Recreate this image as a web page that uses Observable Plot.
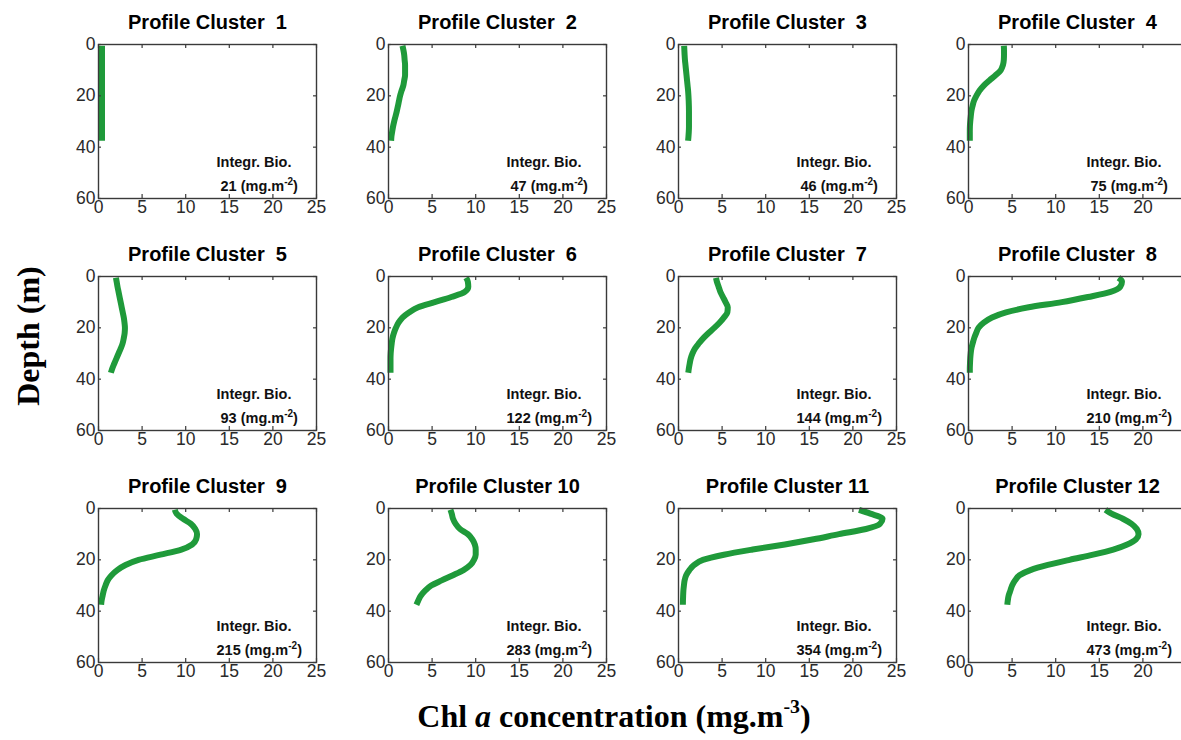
<!DOCTYPE html>
<html>
<head>
<meta charset="utf-8">
<script src="https://cdn.jsdelivr.net/npm/d3@7"></script>
<script src="https://cdn.jsdelivr.net/npm/@observablehq/plot@0.6"></script>
<style>
  html, body { margin: 0; padding: 0; background: #fff; overflow: hidden; }
  #wrap { position: relative; width: 1181px; height: 740px; overflow: hidden; }
  #chart { position: absolute; left: 0; top: 0; width: 1200px; }
  #chart svg { max-width: none !important; }
  .lab { position: absolute; font-family: "Liberation Serif", "Times New Roman", serif; font-weight: bold; font-size: 32px; color: #000; white-space: nowrap; }
  #ylab { left: 28px; top: 336px; transform: translate(-50%, -50%) rotate(-90deg); }
  #xlab { left: 614px; top: 698px; transform: translateX(-50%); }
  #xlab sup { font-size: 0.62em; vertical-align: 0.7em; line-height: 0; }
</style>
</head>
<body>
<div id="wrap">
  <div id="chart"></div>
  <div class="lab" id="ylab">Depth (m)</div>
  <div class="lab" id="xlab">Chl <i>a</i> concentration (mg.m<sup>-3</sup>)</div>
</div>
<script>
// Depth levels (m) at which each mean profile is read
const depth = [0.5, 2, 4, 6, 8, 10, 12, 14, 16, 18, 20, 22, 24, 26, 28, 30, 32, 34, 36, 37.5];

// Chl a concentration (mg.m-3) per profile cluster
const c1  = [0.4, 0.4, 0.4, 0.4, 0.4, 0.4, 0.4, 0.4, 0.4, 0.4, 0.4, 0.4, 0.4, 0.4, 0.4, 0.4, 0.4, 0.4, 0.4, 0.4];
const c2  = [1.6, 1.7, 1.8, 1.85, 1.9, 1.9, 1.9, 1.8, 1.7, 1.5, 1.33, 1.2, 1.08, 0.95, 0.8, 0.65, 0.52, 0.42, 0.33, 0.3];
const c3  = [0.65, 0.67, 0.7, 0.74, 0.8, 0.86, 0.92, 0.98, 1.04, 1.1, 1.14, 1.17, 1.19, 1.2, 1.2, 1.2, 1.2, 1.18, 1.14, 1.1];
const c4  = [4.05, 4.07, 4.07, 4.05, 3.95, 3.7, 3.1, 2.4, 1.75, 1.25, 0.9, 0.62, 0.46, 0.33, 0.26, 0.2, 0.16, 0.15, 0.15, 0.15];
const c5  = [2.0, 2.08, 2.18, 2.3, 2.42, 2.54, 2.66, 2.78, 2.9, 2.98, 3.03, 3.0, 2.9, 2.77, 2.55, 2.3, 2.05, 1.8, 1.56, 1.42];
const c6  = [8.9, 9.1, 9.15, 8.75, 7.2, 5.3, 3.4, 2.35, 1.6, 1.15, 0.85, 0.62, 0.46, 0.37, 0.3, 0.25, 0.23, 0.23, 0.23, 0.23];
const c7  = [4.3, 4.4, 4.6, 4.8, 5.1, 5.4, 5.65, 5.6, 5.2, 4.7, 4.1, 3.45, 2.85, 2.35, 1.9, 1.6, 1.4, 1.28, 1.18, 1.12];
const c8  = [17.2, 17.6, 17.4, 16.3, 13.7, 10.7, 6.9, 4.3, 2.7, 1.75, 1.15, 0.88, 0.65, 0.48, 0.33, 0.25, 0.2, 0.17, 0.15, 0.15];
const c9  = [8.75, 8.95, 9.7, 10.6, 11.1, 11.3, 11.2, 10.75, 9.5, 7.1, 4.6, 3.1, 2.15, 1.5, 1.05, 0.8, 0.6, 0.47, 0.35, 0.3];
const c10 = [7.1, 7.25, 7.4, 7.7, 8.2, 9.1, 9.6, 9.9, 10.0, 10.0, 9.8, 9.4, 8.6, 7.4, 6.1, 4.9, 4.2, 3.7, 3.4, 3.2];
const c11 = [20.7, 22.0, 23.4, 23.1, 21.5, 18.4, 15.5, 12.2, 8.5, 5.2, 2.8, 1.8, 1.25, 0.88, 0.7, 0.62, 0.56, 0.53, 0.51, 0.5];
const c12 = [15.7, 16.4, 17.7, 18.7, 19.3, 19.5, 19.2, 18.2, 16.6, 14.3, 11.6, 9.1, 7.1, 5.85, 5.35, 5.0, 4.8, 4.6, 4.5, 4.45];

// Integrated biomass (mg.m-2) per cluster
const integrated = [21, 47, 46, 75, 93, 122, 144, 210, 215, 283, 354, 473];

// Axis ticks
const xTicks = [0, 5, 10, 15, 20, 25];
const yTicks = [0, 20, 40, 60];

const profiles = [c1, c2, c3, c4, c5, c6, c7, c8, c9, c10, c11, c12];
const nCols = 4;

const rows = [];
profiles.forEach((vals, i) => {
  vals.forEach((v, j) => rows.push({cluster: i + 1, col: i % nCols, row: Math.floor(i / nCols), depth: depth[j], chl: v}));
});
const panels = integrated.map((v, i) => ({
  cluster: i + 1,
  col: i % nCols,
  row: Math.floor(i / nCols),
  title: "Profile Cluster " + String(i + 1).padStart(2, "\u00a0"),
  note: "Integr. Bio.\n" + String(v).padStart(3, "\u00a0") + " (mg.m\u207b\u00b2)"
}));
// x tick labels per panel (the last column's "25" falls outside the picture and is not shown)
const xTickLabels = [];
panels.forEach(p => xTicks.forEach(t => {
  if (!(p.col === nCols - 1 && t === 25)) xTickLabels.push({col: p.col, row: p.row, v: t});
}));

const M = {top: 43, left: 97, right: 12, bottom: 30};
const green = "#1f9a3a";
const frameCol = "#3a3a3a";
const tickCol = "#2a2a2a";

const chart = Plot.plot({
  width: 1200,
  height: 692,
  marginTop: M.top, marginLeft: M.left, marginRight: M.right, marginBottom: M.bottom,
  facet: {marginTop: M.top, marginLeft: M.left, marginRight: M.right, marginBottom: M.bottom},
  fx: {axis: null, paddingInner: 0.2467, paddingOuter: 0, domain: [0, 1, 2, 3]},
  fy: {axis: null, paddingInner: 0.3376, paddingOuter: 0, domain: [0, 1, 2]},
  x: {domain: [0, 25], axis: null},
  y: {domain: [0, 60], reverse: true},
  style: {fontFamily: "'Liberation Sans', Arial, Helvetica, sans-serif", background: "#fff", maxWidth: "none"},
  marks: [
    Plot.line(rows, {x: "chl", y: "depth", z: "cluster", fx: "col", fy: "row",
      stroke: green, strokeWidth: 6, curve: "monotone-y", strokeLinecap: "butt", strokeLinejoin: "round"}),
    Plot.frame({stroke: frameCol, strokeWidth: 1.4}),
    Plot.tickX(xTicks, {x: d => d, insetTop: 150, stroke: frameCol, strokeWidth: 1.2}),
    Plot.tickX(xTicks, {x: d => d, insetBottom: 150, stroke: frameCol, strokeWidth: 1.2}),
    Plot.tickY(yTicks, {y: d => d, insetRight: 215, stroke: frameCol, strokeWidth: 1.2}),
    Plot.tickY(yTicks, {y: d => d, insetLeft: 215, stroke: frameCol, strokeWidth: 1.2}),
    Plot.text(xTickLabels, {x: "v", fx: "col", fy: "row", text: d => String(d.v), frameAnchor: "bottom",
      textAnchor: "middle", lineAnchor: "top", dy: 2, fontSize: 17.5, fill: tickCol}),
    Plot.axisY({ticks: yTicks, tickFormat: d => String(d), facetAnchor: null, anchor: "left",
      tickSize: 0, tickPadding: 3, fontSize: 17.5, fill: tickCol, label: null}),
    Plot.text(panels, {fx: "col", fy: "row", text: "title", frameAnchor: "top", textAnchor: "middle",
      lineAnchor: "bottom", dy: -16, fontSize: 20, fontWeight: "bold", fill: "#000"}),
    Plot.text(panels, {fx: "col", fy: "row", text: "note", frameAnchor: "bottom-left", textAnchor: "start",
      lineAnchor: "bottom", lineHeight: 1.6, dx: 118, dy: -8, fontSize: 14.5, fontWeight: "bold", fill: "#111",
      className: "note"})
  ]
});

// Render the unit's exponent as a real superscript (-2)
d3.select(chart).selectAll(".note tspan").each(function() {
  const t = this.textContent;
  const sup = "\u207b\u00b2";
  if (t.includes(sup)) {
    const [a, b] = t.split(sup);
    const s = d3.select(this);
    s.text(a);
    s.append("tspan").attr("font-size", "10px").attr("dy", "-6").text("-2");
    s.append("tspan").attr("dy", "6").text(b);
  }
});

document.getElementById("chart").appendChild(chart);
</script>
</body>
</html>
